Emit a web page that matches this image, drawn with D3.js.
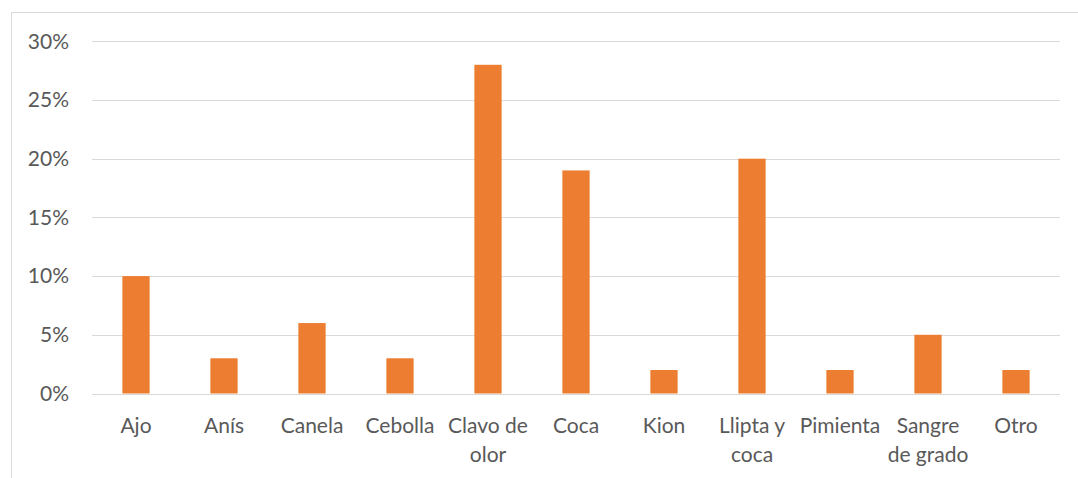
<!DOCTYPE html>
<html>
<head>
<meta charset="utf-8">
<script src="https://cdn.jsdelivr.net/npm/d3@7"></script>
<style>
  html, body { margin: 0; padding: 0; background: #fff; }
  svg { display: block; }
  text { font-family: Lato, "Open Sans", sans-serif; fill: #595959; }
</style>
</head>
<body>
<svg id="chart" width="1078" height="478"></svg>
<script>
const categories = ["Ajo", "Anís", "Canela", "Cebolla", "Clavo de olor", "Coca", "Kion", "Llipta y coca", "Pimienta", "Sangre de grado", "Otro"];
const tickLabels = [["Ajo"], ["Anís"], ["Canela"], ["Cebolla"], ["Clavo de", "olor"], ["Coca"], ["Kion"], ["Llipta y", "coca"], ["Pimienta"], ["Sangre", "de grado"], ["Otro"]];
const values = [0.10, 0.03, 0.06, 0.03, 0.28, 0.19, 0.02, 0.20, 0.02, 0.05, 0.02];
const yTicks = [0, 0.05, 0.10, 0.15, 0.20, 0.25, 0.30];

const svg = d3.select("#chart");

// chart frame (clipped on right/bottom like the reference)
svg.append("rect")
  .attr("x", 11.5).attr("y", 12.5)
  .attr("width", 1100).attr("height", 500)
  .attr("fill", "none").attr("stroke", "#d9d9d9").attr("stroke-width", 1);

const x = d3.scaleBand().domain(categories).range([92, 1060]).paddingInner(0.69).paddingOuter(0.345);
const y = d3.scaleLinear().domain([0, 0.30]).range([393.5, 41.3]);

// gridlines
svg.append("g").selectAll("line").data(yTicks).join("line")
  .attr("x1", 92).attr("x2", 1060)
  .attr("y1", d => Math.round(y(d)) + 0.5).attr("y2", d => Math.round(y(d)) + 0.5)
  .attr("stroke", "#d9d9d9").attr("stroke-width", 1);

// y labels
const yAxis = d3.axisLeft(y).tickValues(yTicks).tickFormat(d3.format(".0%")).tickSize(0).tickPadding(0);
const yg = svg.append("g").attr("transform", "translate(69,0)").call(yAxis);
yg.select(".domain").remove();
yg.selectAll("text").style("font-size", "21px").style("font-family", "Lato, 'Open Sans', sans-serif").attr("fill", "#595959");

// bars
svg.append("g").selectAll("rect").data(values).join("rect")
  .attr("x", (d, i) => x(categories[i]))
  .attr("width", x.bandwidth())
  .attr("y", d => y(d))
  .attr("height", d => y(0) - y(d))
  .attr("fill", "#ed7d31");

// x labels
const xAxis = d3.axisBottom(x).tickSize(0).tickPadding(0).tickFormat("");
const xg = svg.append("g").attr("transform", "translate(0,394)").call(xAxis);
xg.select(".domain").remove();
xg.selectAll(".tick").each(function(d, i) {
  const t = d3.select(this).append("text")
    .attr("text-anchor", "middle")
    .style("font-size", "21px");
  tickLabels[i].forEach((line, j) => {
    t.append("tspan").attr("x", 0).attr("y", 39 + j * 29).text(line);
  });
});
</script>
</body>
</html>
